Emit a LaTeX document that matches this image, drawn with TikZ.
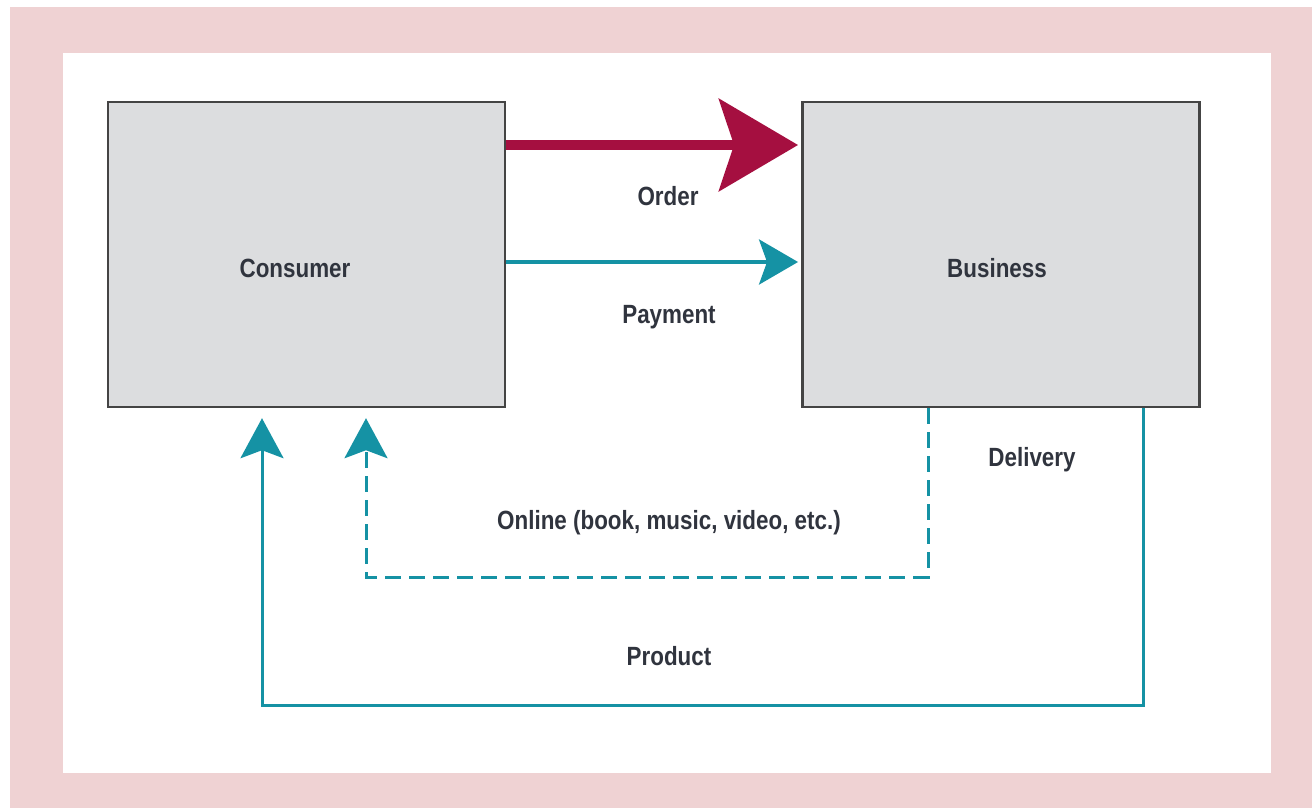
\documentclass[tikz,border=0pt]{standalone}
\usepackage{fontspec}
\setmainfont{Liberation Sans}[FakeStretch=0.85]
\usetikzlibrary{arrows.meta}
\definecolor{framepink}{HTML}{EFD2D3}
\definecolor{boxgray}{HTML}{DCDDDF}
\definecolor{boxline}{HTML}{444444}
\definecolor{crimson}{HTML}{A50F40}
\definecolor{teal}{HTML}{1592A4}
\definecolor{txt}{HTML}{30343E}
\tikzset{
  party/.style={draw=boxline, line width=0.05cm, fill=boxgray,
    minimum width=7.95cm, minimum height=6.1cm, inner sep=0pt},
  lbl/.style={text=txt, font=\fontsize{15}{17}\selectfont\bfseries, inner sep=0pt},
  orderflow/.style={draw=crimson, line width=0.2cm,
    -{Stealth[length=1.58cm, width=1.84cm, inset=0.3cm]}},
  payflow/.style={draw=teal, line width=0.08cm,
    -{Stealth[length=0.78cm, width=0.9cm, inset=0.16cm]}},
  delivflow/.style={draw=teal, line width=0.06cm, line join=miter,
    -{Stealth[length=0.8cm, width=0.86cm, inset=0.16cm]}},
  onlineflow/.style={delivflow, dash pattern=on 0.32cm off 0.16cm},
}
\begin{document}
\begin{tikzpicture}[x=0.02cm, y=-0.02cm]
  \useasboundingbox (0,0) rectangle (1312,808);
  % outer frame
  \fill[framepink] (10,7) rectangle (1312,808);
  \fill[white] (63,53) rectangle (1271,773);

  % the two parties
  \node[party] (cons) at (306.5,254.5) {};
  \node[party] (bus) at (1001,254.5) {};
  \node[lbl] (consl) at (295,268) {Consumer};
  \node[lbl] (busl) at (997,268) {Business};

  % order and payment flows
  \draw[orderflow] (cons.east |- 0,145) -- ([xshift=-0.06cm]bus.west |- 0,145);
  \draw[payflow] (cons.east |- 0,262) -- ([xshift=-0.06cm]bus.west |- 0,262);
  \node[lbl] (orderl) at (668,196) {Order};
  \node[lbl] (payl) at (669,317) {Payment};

  % delivery flows
  \coordinate (prodA) at (1143,705);
  \coordinate (prodB) at (262,705);
  \coordinate (onA) at (928,577);
  \coordinate (onB) at (366,577);
  \draw[delivflow] (bus.south -| prodA) -- (prodA) -- (prodB)
    -- ([yshift=-0.2cm]cons.south -| prodB);
  \draw[onlineflow] (bus.south -| onA) -- (onA) -- (onB)
    -- ([yshift=-0.2cm]cons.south -| onB);
  \node[lbl] (delivl) at (1032,460) {Delivery};
  \node[lbl] (onlinel) at (669,523) {Online (book, music, video, etc.)};
  \node[lbl] (prodl) at (669,656) {Product};
\end{tikzpicture}
\end{document}
